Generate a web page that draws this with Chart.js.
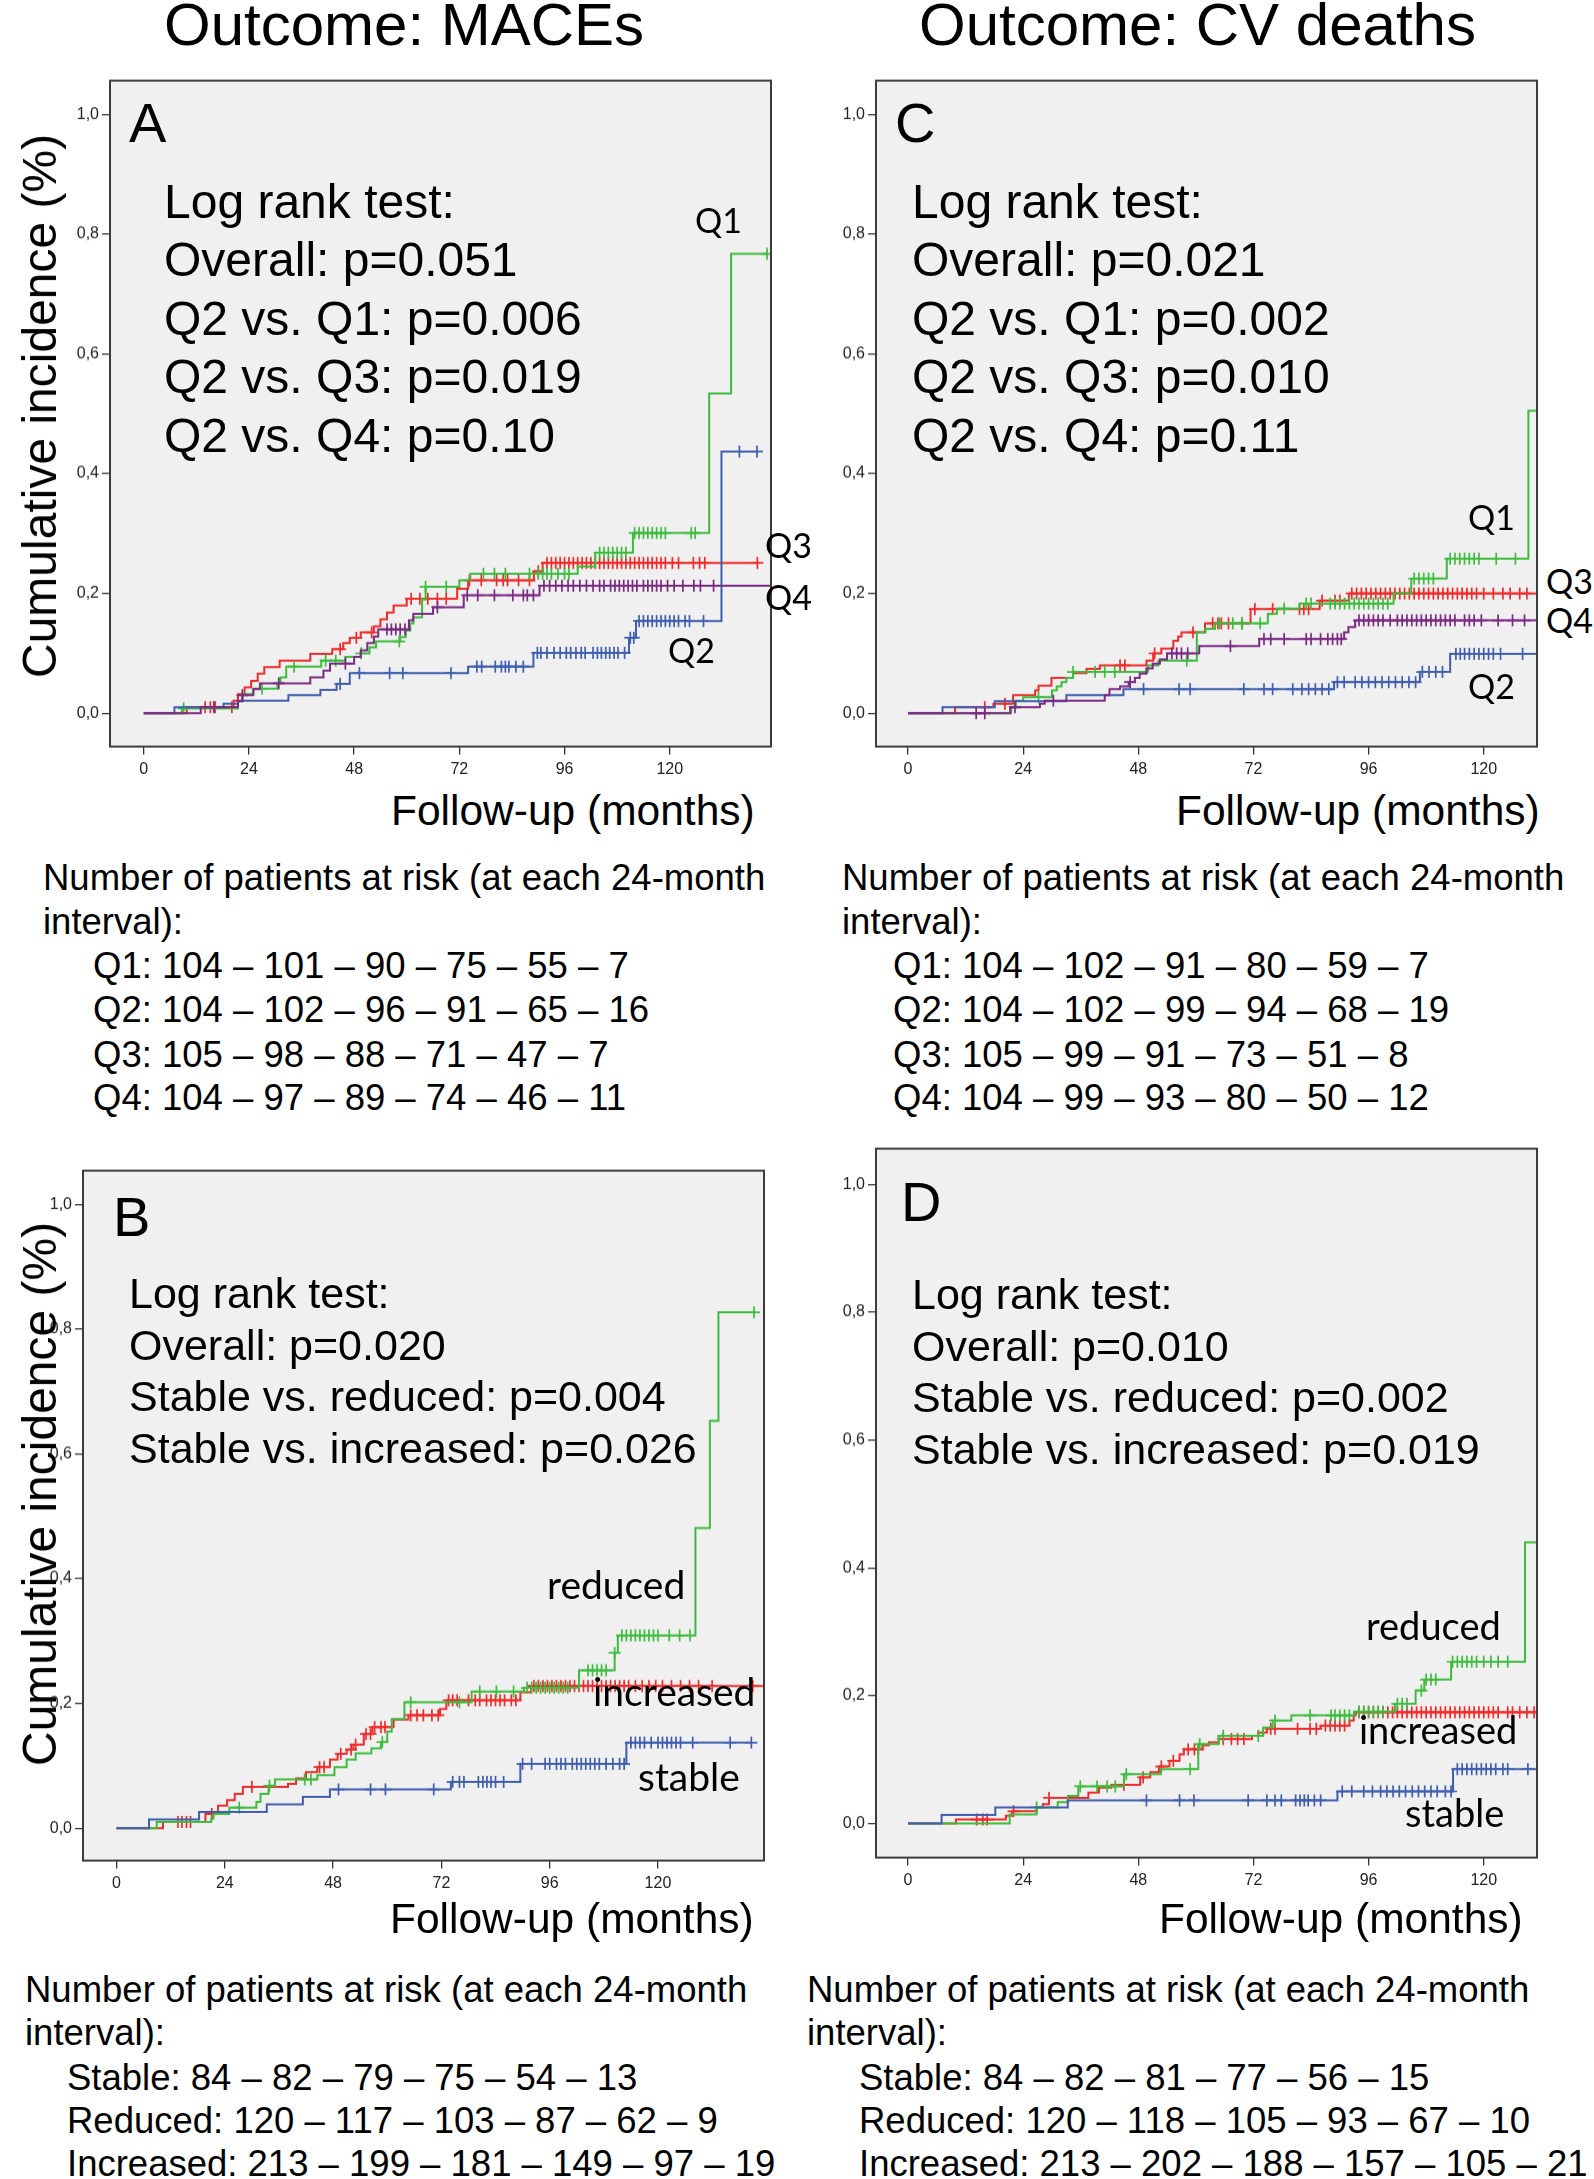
<!DOCTYPE html>
<html>
<head>
<meta charset="utf-8">
<script src="https://cdn.jsdelivr.net/npm/chart.js@4.4.1/dist/chart.umd.min.js"></script>
<style>
  html, body { margin: 0; padding: 0; background: #fff; }
  body { position: relative; width: 1594px; height: 2179px; overflow: hidden; font-family: "Liberation Sans", Arial, sans-serif; color: #000; }
  canvas { position: absolute; }
  .t { position: absolute; white-space: nowrap; }
</style>
</head>
<body>
<canvas id="chA"></canvas>
<canvas id="chC"></canvas>
<canvas id="chB"></canvas>
<canvas id="chD"></canvas>
<script>
// ---- axis ticks ----
const xTickValues = [0, 24, 48, 72, 96, 120];
const yTickValues = [0, 0.2, 0.4, 0.6, 0.8, 1.0];
const yTickLabels = ['0,0', '0,2', '0,4', '0,6', '0,8', '1,0'];

// ---- Panel A: MACEs by quartile (event times in months, cumulative incidence, censor times) ----
const aQ1Times = [8.7, 21.5, 22.5, 25, 30.5, 31.2, 32.5, 40.5, 46, 49.5, 51.5, 53, 58.5, 59.8, 60.8, 61.5, 63.5, 64.3, 72, 74.5, 99, 103, 111.6, 129, 134];
const aQ1Inc   = [0.008, 0.02, 0.032, 0.041, 0.05, 0.06, 0.078, 0.088, 0.094, 0.1, 0.11, 0.12, 0.127, 0.138, 0.15, 0.16, 0.19, 0.211, 0.222, 0.233, 0.245, 0.268, 0.301, 0.534, 0.767];
const aQ1Cens  = [9.1, 27, 34.3, 41.5, 43.8, 49.6, 58.3, 64.3, 69, 77.5, 80, 82.5, 88, 90, 91, 92, 93, 94.5, 96, 97, 104, 105, 106, 107, 108, 109, 110, 112, 113, 114, 115, 116, 117, 118, 119, 124.9, 125.8, 142.2];
const aQ1End = 142.2;
const aQ2Times = [7, 18.2, 21.5, 33, 40.3, 44, 47, 74, 88.9, 110.7, 112.3, 131.8];
const aQ2Inc   = [0.01, 0.016, 0.021, 0.03, 0.039, 0.049, 0.067, 0.078, 0.101, 0.126, 0.154, 0.437];
const aQ2Cens  = [44.8, 49.2, 56.1, 59.1, 70.1, 76, 77.1, 80.2, 81.6, 82.5, 83.3, 84.9, 86.6, 89.8, 90.6, 92, 93.6, 95, 96.4, 97.4, 98.6, 99.8, 100.7, 102.5, 103.5, 104.4, 105.4, 106.3, 107.3, 108.2, 109.7, 111, 111.8, 113, 114, 115, 116, 117, 118, 119, 120, 121, 122, 123.5, 124.5, 127.7, 135.9, 139.9];
const aQ2End = 139.9;
const aQ3Times = [9.8, 20.5, 21.5, 23, 24.5, 26, 27.5, 31, 38, 43, 45.5, 47, 49.5, 52.5, 54, 55.5, 57, 60, 71.5, 74, 89, 91];
const aQ3Inc   = [0.01, 0.021, 0.032, 0.043, 0.054, 0.066, 0.077, 0.088, 0.099, 0.107, 0.117, 0.126, 0.135, 0.145, 0.157, 0.168, 0.18, 0.191, 0.208, 0.222, 0.237, 0.251];
const aQ3Cens  = [14, 15.2, 16.3, 20.1, 44.8, 48.5, 52, 61, 63, 64.8, 67, 69, 74.3, 77, 80.5, 82, 83, 85.5, 88, 90, 92, 93, 94, 95, 96, 97, 98, 99, 100, 101, 102, 103, 104, 105, 106, 107, 108, 109, 110, 111, 112, 113, 114, 115, 116, 117, 118, 119, 120.6, 122, 125.4, 126.8, 128, 140];
const aQ3End = 140;
const aQ4Times = [13, 21.5, 22.5, 25, 26.5, 38, 41, 42.5, 48, 49.5, 51, 52.5, 53.5, 60.5, 61.5, 66, 73, 90.3];
const aQ4Inc   = [0.01, 0.02, 0.03, 0.04, 0.05, 0.06, 0.071, 0.083, 0.094, 0.105, 0.117, 0.128, 0.14, 0.155, 0.166, 0.177, 0.197, 0.213];
const aQ4Cens  = [16, 22.5, 30.8, 46, 55.5, 56.5, 57.5, 58.5, 59.6, 67, 73.8, 76.2, 80, 84.2, 86.6, 87.5, 88.9, 91.3, 92.6, 94, 95.4, 96.8, 98, 99.5, 101, 102.5, 104, 105, 106.5, 107.5, 108.5, 109.5, 110.5, 111.5, 112.5, 114, 115, 116, 117, 118, 119.5, 121, 123, 125.5, 127, 130];
const aQ4End = 145;

// ---- Panel C: CV deaths by quartile ----
const cQ1Times = [21.5, 22.5, 24, 30, 31, 32, 33, 34.4, 50, 52.2, 60.2, 62, 64, 75, 76.9, 81.6, 101.2, 104.9, 112.3, 129.3];
const cQ1Inc   = [0.01, 0.021, 0.027, 0.038, 0.045, 0.052, 0.059, 0.069, 0.08, 0.088, 0.135, 0.141, 0.15, 0.166, 0.175, 0.183, 0.2, 0.225, 0.258, 0.505];
const cQ1Cens  = [27.2, 34.4, 39, 41, 43.1, 58.1, 64.9, 67.7, 69.6, 73.4, 78.4, 83, 84, 88, 89, 90, 91, 92, 93, 94, 95, 96, 97, 98, 99, 100, 105.5, 106.5, 107.5, 108.5, 109.5, 113, 114, 115, 116, 117, 118, 119, 122.6, 126.6];
const cQ1End = 133;
const cQ2Times = [7.2, 18.1, 33, 44.9, 88.8, 106.7, 113];
const cQ2Inc   = [0.01, 0.02, 0.03, 0.04, 0.052, 0.069, 0.099];
const cQ2Cens  = [49.1, 56.5, 58.8, 70, 74.2, 76, 80.2, 82.1, 83.5, 84.9, 86.3, 87.7, 89.5, 90.9, 93.2, 94.6, 96, 97.4, 98.8, 100.2, 101.6, 103, 104.4, 105.8, 107.2, 108.6, 110, 111.4, 114.2, 115.1, 116, 117, 118, 119, 120, 121, 122, 123.5, 128.1];
const cQ2End = 133;
const cQ3Times = [9.8, 17.8, 21.9, 26.5, 27.2, 29.9, 34.4, 37.2, 40, 49.7, 51.1, 52.8, 55.3, 56.3, 57, 61.9, 71.4, 85.8, 91.9];
const cQ3Inc   = [0.01, 0.016, 0.03, 0.038, 0.046, 0.059, 0.067, 0.074, 0.08, 0.088, 0.1, 0.108, 0.121, 0.128, 0.135, 0.15, 0.174, 0.188, 0.2];
const cQ3Cens  = [16, 20.2, 44.2, 45.2, 51.4, 59.4, 63.5, 64.6, 65.3, 66.8, 69.6, 72.3, 76, 81.6, 82.5, 83.5, 86.3, 89, 90, 92.5, 93.5, 94.5, 95.5, 96.5, 97.5, 98.5, 99.5, 100.5, 101.5, 102.5, 103.5, 104.5, 105.5, 106.5, 107.5, 108.5, 109.5, 110.5, 111.5, 112.5, 113.5, 114.5, 115.5, 116.5, 117.5, 118.5, 120, 122, 124, 125.5, 127.5, 129];
const cQ3End = 133;
const cQ4Times = [21.3, 27.5, 28.5, 41, 42, 44.2, 46, 47.3, 48.3, 49.7, 51, 52.5, 54, 60.7, 73.2, 90.9, 91.8, 93.2];
const cQ4Inc   = [0.01, 0.016, 0.021, 0.03, 0.04, 0.045, 0.052, 0.059, 0.066, 0.075, 0.083, 0.09, 0.1, 0.112, 0.124, 0.135, 0.144, 0.155];
const cQ4Cens  = [14.2, 16, 22.3, 30.3, 46.3, 55, 56, 57, 58.3, 67.2, 74.2, 75.6, 78.4, 83, 84, 86, 87.5, 88.5, 89.5, 90.3, 94, 95, 96, 97, 98, 99, 100.5, 102, 103, 104, 105, 106, 107, 108, 109, 110, 111, 112, 113, 114, 116, 117, 118, 119.5, 123, 126, 128.5];
const cQ4End = 133;

// ---- Panel B: MACEs by change group ----
const bStableTimes = [7.2, 18.3, 33.3, 41.3, 47.3, 74.1, 89.5, 113];
const bStableInc   = [0.014, 0.026, 0.038, 0.05, 0.062, 0.074, 0.103, 0.137];
const bStableCens  = [49.2, 56.3, 59.6, 70.3, 74.5, 76, 77, 80.2, 81.2, 82.1, 83, 84, 85.8, 90, 92, 95, 96, 97.5, 98.5, 99.5, 101, 102, 103, 104, 105, 106, 107, 108.5, 110, 111.5, 112.5, 114, 115, 116, 117, 118.5, 120, 121, 122, 123, 124, 125, 127.7, 136, 140.7];
const bStableEnd = 140.7;
const bReducedTimes = [8.9, 21, 21.5, 25, 31, 31.9, 33.7, 35.1, 44.5, 48.3, 51, 53, 56.5, 58.6, 60, 61, 63.8, 78.7, 90.3, 102.5, 110.4, 111.1, 128.3, 131.5, 133.4];
const bReducedInc   = [0.01, 0.015, 0.023, 0.033, 0.042, 0.055, 0.068, 0.078, 0.085, 0.098, 0.11, 0.12, 0.128, 0.138, 0.155, 0.175, 0.202, 0.219, 0.225, 0.253, 0.281, 0.309, 0.481, 0.653, 0.827];
const bReducedCens  = [27.2, 33.9, 41.7, 43.1, 58.9, 65.2, 76, 80.5, 84.2, 88, 91, 92, 93, 94, 95, 96, 97, 98, 99, 100, 104.5, 105.5, 106.5, 107.5, 108.5, 110.4, 112, 113, 114, 115, 116, 117, 118, 119, 120, 122.5, 124.8, 127.1, 141.3];
const bReducedEnd = 141.3;
const bIncrTimes = [10.3, 19.7, 22.5, 24.5, 26.2, 28, 38, 39.8, 42, 44.5, 47.3, 49, 51, 52.5, 54.8, 56.7, 61.4, 64.7, 71.7, 73.1, 89.5, 91.9];
const bIncrInc   = [0.01, 0.023, 0.036, 0.045, 0.055, 0.066, 0.071, 0.08, 0.09, 0.098, 0.11, 0.119, 0.126, 0.134, 0.151, 0.162, 0.174, 0.181, 0.191, 0.205, 0.218, 0.228];
const bIncrCens  = [13.6, 14.5, 15.5, 16.4, 21.1, 30, 45, 46, 49.7, 52, 53, 55.3, 56.3, 57.2, 58.6, 59.5, 65.2, 66.6, 68, 69.9, 71.3, 73.6, 74.5, 75.5, 78, 79.5, 80.5, 82, 83, 84, 85, 86, 87.5, 88.5, 92.5, 93.5, 94.5, 95.5, 96.5, 97.5, 98.5, 99.5, 100.5, 101.5, 102.5, 103.5, 104.5, 105.5, 106.5, 107.5, 108.5, 109.5, 110.5, 111.5, 112.5, 113.5, 115, 116.5, 118, 119.5, 121, 123, 125, 127, 129, 132, 141];
const bIncrEnd = 146;

// ---- Panel D: CV deaths by change group ----
const dStableTimes = [7, 18.2, 33.3, 89.5, 113.6];
const dStableInc   = [0.013, 0.025, 0.036, 0.05, 0.085];
const dStableCens  = [49.7, 56.6, 59.6, 70.9, 74.8, 76.5, 77.8, 80.8, 81.7, 82.6, 83.4, 84.7, 86, 90.5, 92.5, 95, 96.8, 98.5, 99.8, 101.1, 102.4, 103.7, 105.1, 106.4, 107.7, 109, 110.3, 112, 113.2, 114.5, 115.5, 116.5, 117.5, 118.5, 119.5, 120.5, 121.5, 122.5, 124, 125, 129.2];
const dStableEnd = 133;
const dReducedTimes = [21.2, 26.8, 31.2, 33.3, 35.5, 45, 52.7, 60.5, 64.8, 74, 76, 79.9, 93, 101.5, 105.8, 107.6, 113.2, 128.6];
const dReducedInc   = [0.014, 0.025, 0.033, 0.043, 0.058, 0.077, 0.085, 0.124, 0.137, 0.15, 0.161, 0.169, 0.175, 0.187, 0.208, 0.225, 0.253, 0.44];
const dReducedCens  = [26.8, 35.9, 39.4, 41.5, 43.2, 45.5, 58.8, 60.8, 65.7, 73, 76.5, 83.8, 88.2, 89, 90, 91, 92, 94, 95, 96, 97, 98, 99, 102, 103, 104, 107, 108, 109, 110, 113.5, 114.5, 115.5, 116.5, 117.5, 118.5, 120, 121.5, 123, 125];
const dReducedEnd = 133;
const dIncrTimes = [10, 20.4, 21.7, 26.8, 28.1, 29.4, 37.6, 39.8, 42.4, 48.4, 50.5, 52.3, 54.5, 56.6, 57.5, 61.4, 62.7, 64.8, 71.7, 73, 74.8, 86, 92, 92.9, 93.3];
const dIncrInc   = [0.006, 0.012, 0.019, 0.025, 0.03, 0.04, 0.048, 0.056, 0.06, 0.072, 0.08, 0.089, 0.098, 0.108, 0.116, 0.122, 0.127, 0.132, 0.137, 0.142, 0.148, 0.153, 0.161, 0.169, 0.174];
const dIncrCens  = [14.3, 15.6, 16.5, 22, 29.4, 45, 49, 52.8, 55.3, 58.4, 59.7, 60.5, 65.7, 67.4, 68.7, 70, 75.6, 76.5, 81.2, 83.8, 85.1, 87, 88, 89, 90, 91, 94, 95, 96, 97, 98, 99, 100, 101, 102, 103, 104, 105, 106, 107, 108, 109, 110, 111, 112, 113, 114, 115, 116, 117, 118, 119, 120, 121, 122, 123, 125, 126, 127.5, 129, 130.5];
const dIncrEnd = 133;

// ---- number at risk tables (text) ----
const riskHead = ['Number of patients at risk (at each 24-month', 'interval):'];
const riskA = ['Q1: 104 – 101 – 90 – 75 – 55 – 7', 'Q2: 104 – 102 – 96 – 91 – 65 – 16', 'Q3: 105 – 98 – 88 – 71 – 47 – 7', 'Q4: 104 – 97 – 89 – 74 – 46 – 11'];
const riskC = ['Q1: 104 – 102 – 91 – 80 – 59 – 7', 'Q2: 104 – 102 – 99 – 94 – 68 – 19', 'Q3: 105 – 99 – 91 – 73 – 51 – 8', 'Q4: 104 – 99 – 93 – 80 – 50 – 12'];
const riskB = ['Stable: 84 – 82 – 79 – 75 – 54 – 13', 'Reduced: 120 – 117 – 103 – 87 – 62 – 9', 'Increased: 213 – 199 – 181 – 149 – 97 – 19'];
const riskD = ['Stable: 84 – 82 – 81 – 77 – 56 – 15', 'Reduced: 120 – 118 – 105 – 93 – 67 – 10', 'Increased: 213 – 202 – 188 – 157 – 105 – 21'];

const GREEN = '#3cbc3c', RED = '#f02a2a', BLUE = '#3e5dae', PURPLE = '#7a2982';

Chart.defaults.font.family = '"Liberation Sans", Arial, sans-serif';

function stepAt(times, inc, t) {
  let v = 0;
  for (let i = 0; i < times.length; i++) if (times[i] <= t) v = inc[i];
  return v;
}

// grey plot area + dark frame
const framePlugin = {
  id: 'frame',
  beforeDraw(chart) {
    const a = chart.chartArea, c = chart.ctx;
    c.save();
    c.fillStyle = '#f0f0f0';
    c.fillRect(a.left, a.top, a.right - a.left, a.bottom - a.top);
    c.restore();
  },
  afterDraw(chart) {
    const a = chart.chartArea, c = chart.ctx;
    c.save();
    c.strokeStyle = '#3c3c3c';
    c.lineWidth = 2;
    c.strokeRect(a.left, a.top, a.right - a.left, a.bottom - a.top);
    c.restore();
  }
};

function kmChart(id, box, xr, yr, series) {
  const cv = document.getElementById(id);
  const w = box.r - box.l + 64, h = box.b - box.t + 44;
  cv.width = w; cv.height = h;
  cv.style.left = (box.l - 60) + 'px';
  cv.style.top = (box.t - 4) + 'px';
  cv.style.width = w + 'px';
  cv.style.height = h + 'px';

  const datasets = [];
  series.forEach(s => {
    const pts = [{ x: 0, y: 0 }].concat(s.times.map((t, i) => ({ x: t, y: s.inc[i] })));
    pts.push({ x: s.end, y: s.inc[s.inc.length - 1] });
    datasets.push({ data: pts, borderColor: s.color, borderWidth: 2, stepped: true, pointRadius: 0, fill: false });
    datasets.push({
      data: s.cens.map(t => ({ x: t, y: stepAt(s.times, s.inc, t) })),
      showLine: false, pointStyle: 'cross', pointRadius: 6, pointBorderWidth: 1.7,
      borderColor: s.color, pointBorderColor: s.color, backgroundColor: s.color
    });
  });

  const ch = new Chart(cv, {
    type: 'line',
    data: { datasets },
    options: {
      responsive: false, maintainAspectRatio: false, animation: false, events: [],
      layout: { padding: { left: 0, top: 4, right: 4, bottom: 0 }, autoPadding: false },
      plugins: { legend: { display: false }, tooltip: { enabled: false } },
      scales: {
        x: {
          type: 'linear', min: xr[0], max: xr[1],
          afterBuildTicks: a => { a.ticks = xTickValues.map(v => ({ value: v })); },
          afterFit: a => { a.height = 40; },
          ticks: { color: '#222', font: { size: 16 }, padding: 5, maxRotation: 0, autoSkip: false, callback: v => String(v) },
          grid: { drawOnChartArea: false, drawTicks: true, tickLength: 8, color: '#333', lineWidth: 1.3 },
          border: { display: false }
        },
        y: {
          type: 'linear', min: yr[0], max: yr[1],
          afterBuildTicks: a => { a.ticks = yTickValues.map(v => ({ value: v })); },
          afterFit: a => { a.width = 60; },
          ticks: { color: '#222', font: { size: 16 }, padding: 3, autoSkip: false, callback: (v, i) => yTickLabels[i] },
          grid: { drawOnChartArea: false, drawTicks: true, tickLength: 8, color: '#333', lineWidth: 1.3 },
          border: { display: false }
        }
      }
    },
    plugins: [framePlugin]
  });

  // the y labels push the plot area down a little; grow the canvas upwards so the frame lands on box
  const dy = ch.chartArea.top - 4;
  if (Math.abs(dy) > 0.5) {
    cv.style.top = (box.t - 4 - dy) + 'px';
    ch.resize(w, h + dy);
  }
}

// text helpers (k = fraction of font size from box top to the reference line centre)
function txt(s, x, yc, size, opt = {}) {
  const d = document.createElement('div');
  d.className = 't';
  d.textContent = s;
  const k = opt.k || 0.488;
  d.style.left = x + 'px';
  d.style.top = (yc - k * size) + 'px';
  d.style.fontSize = size + 'px';
  d.style.lineHeight = size + 'px';
  if (opt.font) d.style.fontFamily = opt.font;
  document.body.appendChild(d);
  return d;
}
function ytitle(s, xc, yc, size) {
  const d = document.createElement('div');
  d.className = 't';
  d.textContent = s;
  d.style.fontSize = size + 'px';
  d.style.lineHeight = size + 'px';
  d.style.left = xc + 'px';
  d.style.top = yc + 'px';
  d.style.transform = 'translate(-50%, -50%) rotate(-90deg)';
  document.body.appendChild(d);
}
const LATO = 'Lato, "Open Sans", sans-serif';

document.addEventListener('DOMContentLoaded', () => {
  kmChart('chA', { l: 110, t: 81, r: 771, b: 746 }, [-7.7, 143.1], [-0.0557, 1.0563], [
    { times: aQ4Times, inc: aQ4Inc, cens: aQ4Cens, end: aQ4End, color: PURPLE },
    { times: aQ2Times, inc: aQ2Inc, cens: aQ2Cens, end: aQ2End, color: BLUE },
    { times: aQ1Times, inc: aQ1Inc, cens: aQ1Cens, end: aQ1End, color: GREEN },
    { times: aQ3Times, inc: aQ3Inc, cens: aQ3Cens, end: aQ3End, color: RED }
  ]);
  kmChart('chC', { l: 876, t: 81, r: 1537, b: 746 }, [-6.67, 131.1], [-0.0557, 1.0563], [
    { times: cQ4Times, inc: cQ4Inc, cens: cQ4Cens, end: cQ4End, color: PURPLE },
    { times: cQ2Times, inc: cQ2Inc, cens: cQ2Cens, end: cQ2End, color: BLUE },
    { times: cQ1Times, inc: cQ1Inc, cens: cQ1Cens, end: cQ1End, color: GREEN },
    { times: cQ3Times, inc: cQ3Inc, cens: cQ3Cens, end: cQ3End, color: RED }
  ]);
  kmChart('chB', { l: 83, t: 1171, r: 764, b: 1860 }, [-7.43, 143.5], [-0.052, 1.0541], [
    { times: bStableTimes, inc: bStableInc, cens: bStableCens, end: bStableEnd, color: BLUE },
    { times: bReducedTimes, inc: bReducedInc, cens: bReducedCens, end: bReducedEnd, color: GREEN },
    { times: bIncrTimes, inc: bIncrInc, cens: bIncrCens, end: bIncrEnd, color: RED }
  ]);
  kmChart('chD', { l: 876, t: 1149, r: 1537, b: 1857 }, [-6.67, 131.1], [-0.0536, 1.0561], [
    { times: dStableTimes, inc: dStableInc, cens: dStableCens, end: dStableEnd, color: BLUE },
    { times: dReducedTimes, inc: dReducedInc, cens: dReducedCens, end: dReducedEnd, color: GREEN },
    { times: dIncrTimes, inc: dIncrInc, cens: dIncrCens, end: dIncrEnd, color: RED }
  ]);

  // column titles
  txt('Outcome: MACEs', 164, 24, 60);
  txt('Outcome: CV deaths', 919, 24, 60);

  // panel letters
  txt('A', 129, 122, 56);
  txt('C', 895, 122, 56);
  txt('B', 113, 1216, 56);
  txt('D', 901, 1201, 56);

  // log rank blocks
  const lrA = ['Log rank test:', 'Overall: p=0.051', 'Q2 vs. Q1: p=0.006', 'Q2 vs. Q3: p=0.019', 'Q2 vs. Q4: p=0.10'];
  const lrC = ['Log rank test:', 'Overall: p=0.021', 'Q2 vs. Q1: p=0.002', 'Q2 vs. Q3: p=0.010', 'Q2 vs. Q4: p=0.11'];
  const lrB = ['Log rank test:', 'Overall: p=0.020', 'Stable vs. reduced: p=0.004', 'Stable vs. increased: p=0.026'];
  const lrD = ['Log rank test:', 'Overall: p=0.010', 'Stable vs. reduced: p=0.002', 'Stable vs. increased: p=0.019'];
  lrA.forEach((s, i) => txt(s, 164, 201 + i * 58.5, 48));
  lrC.forEach((s, i) => txt(s, 912, 201 + i * 58.5, 48));
  lrB.forEach((s, i) => txt(s, 129, 1293 + i * 51.7, 43));
  lrD.forEach((s, i) => txt(s, 912, 1294 + i * 51.7, 43));

  // curve labels
  const capK = 0.529, xK = 0.634;
  txt('Q1', 695, 221, 34, { font: LATO, k: capK });
  txt('Q3', 765, 546, 34, { font: LATO, k: capK });
  txt('Q4', 765, 598, 34, { font: LATO, k: capK });
  txt('Q2', 668, 651, 34, { font: LATO, k: capK });
  txt('Q1', 1468, 518, 34, { font: LATO, k: capK });
  txt('Q3', 1546, 582, 34, { font: LATO, k: capK });
  txt('Q4', 1546, 621, 34, { font: LATO, k: capK });
  txt('Q2', 1468, 687, 34, { font: LATO, k: capK });
  txt('reduced', 547, 1590, 39, { font: LATO, k: xK });
  txt('increased', 593, 1697, 39, { font: LATO, k: xK });
  txt('stable', 638, 1782, 39, { font: LATO, k: xK });
  txt('reduced', 1366, 1630, 38, { font: LATO, k: xK });
  txt('increased', 1359, 1734, 38, { font: LATO, k: xK });
  txt('stable', 1405, 1817, 38, { font: LATO, k: xK });

  // axis titles
  txt('Follow-up (months)', 391, 811, 42.5);
  txt('Follow-up (months)', 1176, 811, 42.5);
  txt('Follow-up (months)', 390, 1919, 42.5);
  txt('Follow-up (months)', 1159, 1919, 42.5);
  ytitle('Cumulative incidence (%)', 40, 406, 48);
  ytitle('Cumulative incidence (%)', 40, 1494, 48);

  // number-at-risk tables
  const rowsTop = [878, 921.5, 966, 1010, 1055, 1098];
  const rowsBot = [1990, 2033, 2078, 2121, 2164];
  riskHead.forEach((s, i) => { txt(s, 43, rowsTop[i], 36.5); txt(s, 842, rowsTop[i], 36.5); });
  riskA.forEach((s, i) => txt(s, 93, rowsTop[i + 2], 36.5));
  riskC.forEach((s, i) => txt(s, 893, rowsTop[i + 2], 36.5));
  riskHead.forEach((s, i) => { txt(s, 25, rowsBot[i], 36.5); txt(s, 807, rowsBot[i], 36.5); });
  riskB.forEach((s, i) => txt(s, 67, rowsBot[i + 2], 36.5));
  riskD.forEach((s, i) => txt(s, 859, rowsBot[i + 2], 36.5));
});
</script>
</body>
</html>
